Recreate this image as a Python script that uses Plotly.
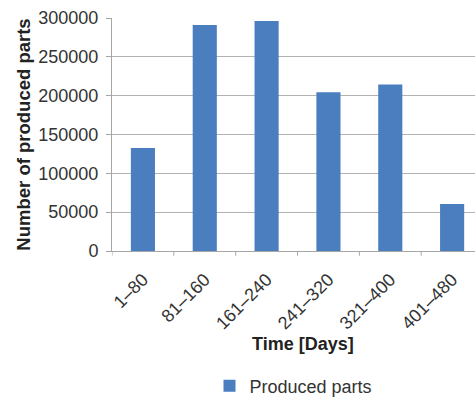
import plotly.graph_objects as go

categories = ["1–80", "81–160", "161–240", "241–320", "321–400", "401–480"]
produced = [132500, 291000, 296000, 204500, 214500, 60500]
y_ticks = [0, 50000, 100000, 150000, 200000, 250000, 300000]

fig = go.Figure()
fig.add_trace(go.Bar(
    x=list(range(len(categories))), y=produced, name="Produced parts",
    marker=dict(color="#4a7ebf", line=dict(width=0)),
    width=0.39, showlegend=True,
))

font = "Liberation Sans, Arial, sans-serif"
fig.update_layout(
    width=475, height=397,
    margin=dict(l=112, r=0, t=18, b=146, autoexpand=False),
    paper_bgcolor="white", plot_bgcolor="white",
    font=dict(family=font, size=18, color="#333333"),
    showlegend=True,
    legend=dict(orientation="h", x=0.5, xanchor="center", y=-0.5, yanchor="top",
                font=dict(size=18, color="#333333")),
    xaxis=dict(
        tickmode="array", tickvals=list(range(len(categories))), ticktext=categories,
        tickangle=-45, range=[-0.5, 5.37], automargin=False,
        showgrid=False, showline=True, linecolor="#a6a6a6", linewidth=1,
        ticks="", zeroline=False, ticklabelstandoff=10,
    ),
    yaxis=dict(
        range=[0, 300000], tickvals=y_ticks, tickformat="d", automargin=False,
        showgrid=True, gridcolor="#b3b3b3", gridwidth=1,
        showline=True, linecolor="#a6a6a6", linewidth=1,
        ticks="outside", ticklen=5, tickcolor="#a6a6a6",
        zeroline=False, ticklabelstandoff=4,
        title=dict(text="<b>Number of produced parts</b>", font=dict(size=18.5, color="#222222"), standoff=2),
    ),
    annotations=[dict(
        text="<b>Time [Days]</b>", xref="paper", yref="paper", x=0.526, y=-0.40,
        xanchor="center", yanchor="middle", showarrow=False,
        font=dict(size=18, color="#222222"),
    )],
)

# category boundary tick marks on x axis
for b in [-0.5, 0.5, 1.5, 2.5, 3.5, 4.5]:
    fig.add_shape(type="line", xref="x", yref="paper", x0=b, x1=b, y0=0, y1=-0.02,
                  line=dict(color="#a6a6a6", width=1))

fig.write_html("out.html")
